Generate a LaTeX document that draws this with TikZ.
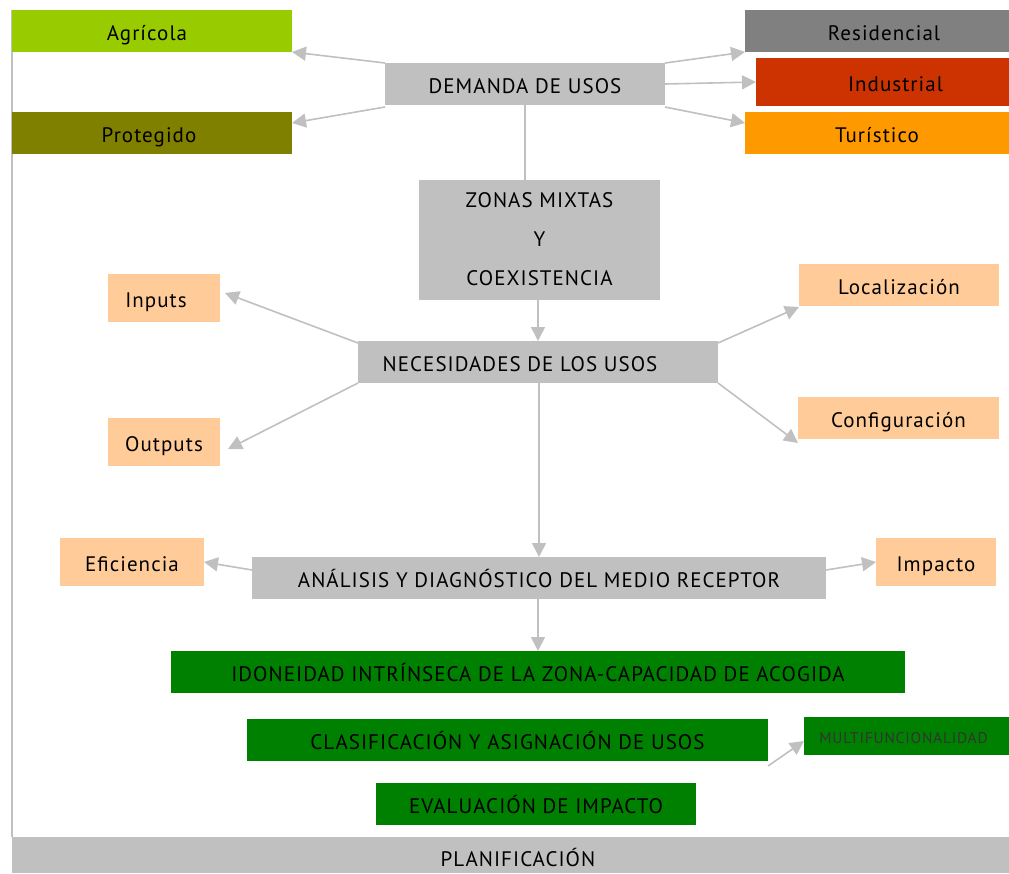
\documentclass[tikz,border=0pt]{standalone}
\usepackage{fontspec}
\setmainfont{PT Sans}[LetterSpace=5]
\usetikzlibrary{arrows.meta,calc}
\definecolor{lgray}{HTML}{C0C0C0}
\definecolor{dgray}{HTML}{808080}
\definecolor{agri}{HTML}{99CC00}
\definecolor{olive}{HTML}{808000}
\definecolor{indus}{HTML}{CC3300}
\definecolor{turis}{HTML}{FF9900}
\definecolor{peach}{HTML}{FFCC99}
\definecolor{gr}{HTML}{008000}
\definecolor{edge}{HTML}{C0C0C0}
\tikzset{
  base/.style={rectangle, inner sep=0pt, outer sep=0pt, font=\fontsize{21}{24}\selectfont, text=black},
  box/.style={base, text height=18pt, text depth=0pt},
  conn/.style={draw=edge, line width=1.6pt, -{Triangle[length=14pt,width=14pt]}},
  plain/.style={draw=edge, line width=1.6pt},
}
\begin{document}
\begin{tikzpicture}[x=1pt,y=-1pt]
\useasboundingbox (0,0) rectangle (1009,873);
\draw[draw=edge, line width=2pt] (12,10) -- (12,837);
\node[box, fill=agri, minimum width=280, minimum height=42] (agr) at (152,31) {\hspace*{-10pt}Agrícola};
\node[box, fill=olive, minimum width=280, minimum height=42] (pro) at (152,133) {\hspace*{-6pt}Protegido};
\node[box, fill=lgray, minimum width=280, minimum height=42] (dem) at (525,84) {DEMANDA DE USOS};
\node[box, fill=dgray, minimum width=264, minimum height=42] (res) at (877,31) {\hspace*{14pt}Residencial};
\node[box, fill=indus, minimum width=253, minimum height=48] (ind) at (882.5,82) {\hspace*{26pt}Industrial};
\node[box, fill=turis, minimum width=264, minimum height=42] (tur) at (877,133) {Turístico};
\node[base, fill=lgray, minimum width=241, minimum height=120, align=center, font=\fontsize{21}{39}\selectfont] (zon) at (539.5,239.5) {ZONAS MIXTAS\\Y\\COEXISTENCIA};
\node[box, fill=peach, minimum width=112, minimum height=48] (inp) at (164,298) {\hspace*{-16pt}Inputs};
\node[box, fill=peach, minimum width=112, minimum height=48] (out) at (164,442) {Outputs};
\node[box, fill=peach, minimum width=200, minimum height=42] (loc) at (899,285) {Localización};
\node[box, fill=peach, minimum width=201, minimum height=42] (con) at (898.5,418) {Configuración};
\node[box, fill=lgray, minimum width=360, minimum height=42] (nec) at (538,362) {\hspace*{-36pt}NECESIDADES DE LOS USOS};
\node[box, fill=peach, minimum width=144, minimum height=48] (efi) at (132,562) {Eficiencia};
\node[box, fill=lgray, minimum width=574, minimum height=42] (ana) at (539,578) {ANÁLISIS Y DIAGNÓSTICO DEL MEDIO RECEPTOR};
\node[box, fill=peach, minimum width=120, minimum height=48] (imp) at (936,562) {Impacto};
\node[box, fill=gr, minimum width=734, minimum height=42] (ido) at (538,672) {IDONEIDAD INTRÍNSECA DE LA ZONA-CAPACIDAD DE ACOGIDA};
\node[box, fill=gr, minimum width=521, minimum height=42] (cla) at (507.5,740) {CLASIFICACIÓN Y ASIGNACIÓN DE USOS};
\node[base, fill=gr, minimum width=205, minimum height=38, font=\fontsize{15.5}{18}\selectfont, text=black!80, text height=14pt, text depth=0pt] (mul) at (906.5,736) {\hspace*{-6pt}MULTIFUNCIONALIDAD};
\node[box, fill=gr, minimum width=320, minimum height=42] (eva) at (536,804) {EVALUACIÓN DE IMPACTO};
\node[base, fill=lgray, minimum width=997, minimum height=36, text height=23pt, text depth=0pt] (pla) at (510.5,855) {\hspace*{15pt}PLANIFICACIÓN};
% connectors
\draw[conn] (dem.north west) -- (agr.south east);
\draw[conn] ([yshift=-2pt]dem.south west) -- ([yshift=10pt]pro.east);
\draw[conn] (dem.north east) -- (res.south west);
\draw[conn] (dem.east) -- (ind.west);
\draw[conn] ([yshift=-2pt]dem.south east) -- ([yshift=10pt]tur.west);
\draw[plain] (dem.south) -- (dem.south |- zon.north);
\draw[conn] (zon.south -| nec.north) -- (nec.north);
\draw[conn] ([yshift=-2pt]nec.north west) -- ([xshift=5pt,yshift=5pt]inp.east);
\draw[conn] (nec.south west) -- ([xshift=8pt,yshift=-7pt]out.east);
\draw[conn] ([yshift=-2pt]nec.north east) -- ([yshift=-1pt]loc.south west);
\draw[conn] (nec.south east) -- ([yshift=-4pt]con.south west);
\draw[conn] (nec.south -| ana.north) -- (ana.north);
\draw[conn] ([yshift=8pt]ana.west) -- (efi.east);
\draw[conn] ([yshift=8pt]ana.east) -- (imp.west);
\draw[conn] (ana.south -| ido.north) -- (ido.north);
\draw[conn] ([yshift=-5pt]cla.south east) -- ([yshift=-5pt]mul.west);
\end{tikzpicture}
\end{document}
